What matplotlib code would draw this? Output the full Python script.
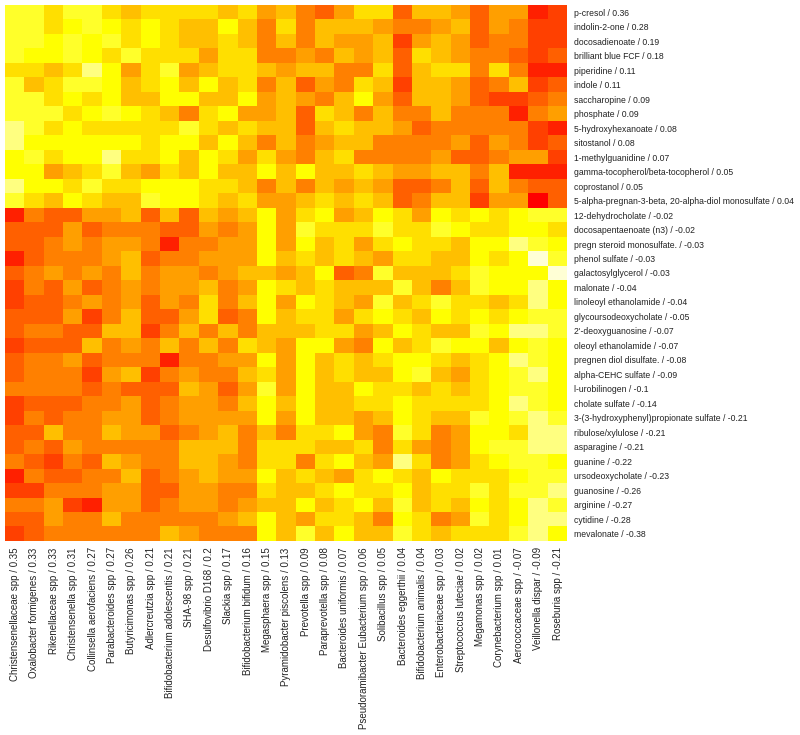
import matplotlib
matplotlib.use('Agg')
import matplotlib.pyplot as plt
from matplotlib.colors import ListedColormap

plt.rcParams['font.family'] = ['Liberation Sans', 'DejaVu Sans']

metabolites = ["p-cresol", "indolin-2-one", "docosadienoate", "brilliant blue FCF", "piperidine", "indole",
               "saccharopine", "phosphate", "5-hydroxyhexanoate", "sitostanol", "1-methylguanidine",
               "gamma-tocopherol/beta-tocopherol", "coprostanol",
               "5-alpha-pregnan-3-beta, 20-alpha-diol monosulfate", "12-dehydrocholate",
               "docosapentaenoate (n3)", "pregn steroid monosulfate.", "phenol sulfate", "galactosylglycerol",
               "malonate", "linoleoyl ethanolamide", "glycoursodeoxycholate", "2'-deoxyguanosine",
               "oleoyl ethanolamide", "pregnen diol disulfate.", "alpha-CEHC sulfate", "l-urobilinogen",
               "cholate sulfate", "3-(3-hydroxyphenyl)propionate sulfate", "ribulose/xylulose", "asparagine",
               "guanine", "ursodeoxycholate", "guanosine", "arginine", "cytidine", "mevalonate"]
metabolite_scores = [0.36, 0.28, 0.19, 0.18, 0.11, 0.11, 0.09, 0.09, 0.08, 0.08, 0.07, 0.05, 0.05, 0.04,
                     -0.02, -0.02, -0.03, -0.03, -0.03, -0.04, -0.04, -0.05, -0.07, -0.07, -0.08, -0.09,
                     -0.1, -0.14, -0.21, -0.21, -0.21, -0.22, -0.23, -0.26, -0.27, -0.28, -0.38]

taxa = ["Christensenellaceae spp", "Oxalobacter formigenes", "Rikenellaceae spp", "Christensenella spp",
        "Collinsella aerofaciens", "Parabacteroides spp", "Butyricimonas spp", "Adlercreutzia spp",
        "Bifidobacterium adolescentis", "SHA-98 spp", "Desulfovibrio D168", "Slackia spp",
        "Bifidobacterium bifidum", "Megasphaera spp", "Pyramidobacter piscolens", "Prevotella spp",
        "Paraprevotella spp", "Bacteroides uniformis", "Pseudoramibacter Eubacterium spp", "Solibacillus spp",
        "Bacteroides eggerthii", "Bifidobacterium animalis", "Enterobacteriaceae spp",
        "Streptococcus luteciae", "Megamonas spp", "Corynebacterium spp", "Aerococcaceae spp",
        "Veillonella dispar", "Roseburia spp"]
taxa_scores = [0.35, 0.33, 0.33, 0.31, 0.27, 0.27, 0.26, 0.21, 0.21, 0.21, 0.2, 0.17, 0.16, 0.15, 0.13,
               0.09, 0.08, 0.07, 0.06, 0.05, 0.04, 0.04, 0.03, 0.02, 0.02, 0.01, -0.07, -0.09, -0.21]

# colour bin of every cell, 0 = red ... 11 = palest yellow (R heat.colors(12))
heat_colors = ["#FF0000", "#FF2000", "#FF4000", "#FF6000", "#FF8000", "#FF9F00",
               "#FFBF00", "#FFDF00", "#FFFF00", "#FFFF2A", "#FFFF80", "#FFFFD5"]
bins = [
    [9, 9, 7, 9, 9, 7, 6, 7, 7, 7, 7, 6, 7, 5, 6, 4, 3, 5, 7, 7, 3, 6, 6, 5, 3, 5, 5, 1, 2],
    [9, 9, 7, 8, 9, 8, 7, 8, 7, 6, 6, 8, 6, 4, 7, 4, 6, 6, 6, 5, 4, 4, 5, 6, 3, 5, 4, 2, 2],
    [9, 9, 8, 9, 8, 9, 7, 8, 7, 6, 6, 7, 6, 4, 6, 4, 6, 5, 5, 6, 2, 5, 6, 5, 3, 4, 4, 2, 2],
    [9, 8, 8, 9, 8, 7, 9, 7, 7, 7, 5, 7, 7, 4, 4, 5, 4, 6, 5, 6, 3, 7, 6, 5, 4, 4, 3, 2, 3],
    [7, 7, 6, 7, 10, 8, 5, 7, 9, 5, 6, 7, 7, 6, 5, 6, 6, 4, 4, 7, 3, 6, 7, 7, 4, 7, 4, 1, 1],
    [9, 6, 7, 9, 9, 8, 6, 7, 8, 6, 8, 6, 7, 4, 6, 3, 5, 4, 7, 6, 2, 6, 6, 5, 3, 4, 6, 2, 3],
    [9, 9, 7, 8, 7, 8, 6, 6, 8, 8, 6, 6, 8, 5, 6, 5, 4, 6, 8, 5, 3, 6, 6, 5, 3, 2, 2, 3, 4],
    [9, 9, 9, 7, 8, 9, 8, 7, 6, 4, 7, 8, 5, 5, 6, 3, 7, 6, 4, 6, 4, 4, 6, 4, 4, 4, 1, 4, 5],
    [10, 9, 7, 8, 7, 7, 7, 7, 7, 9, 7, 6, 7, 6, 6, 3, 6, 7, 6, 6, 5, 3, 4, 4, 4, 4, 4, 2, 1],
    [10, 8, 8, 8, 8, 8, 8, 7, 8, 8, 6, 8, 6, 4, 6, 4, 5, 6, 6, 4, 4, 4, 4, 5, 3, 5, 4, 2, 3],
    [8, 9, 7, 8, 8, 10, 7, 7, 8, 6, 8, 7, 5, 7, 5, 4, 6, 7, 4, 4, 4, 4, 5, 3, 3, 4, 5, 5, 2],
    [8, 8, 5, 6, 7, 9, 6, 5, 7, 6, 8, 6, 6, 8, 6, 8, 6, 6, 7, 6, 5, 5, 6, 6, 4, 6, 1, 1, 1],
    [10, 8, 8, 7, 9, 7, 7, 8, 8, 8, 7, 7, 6, 4, 6, 4, 6, 5, 6, 5, 3, 3, 4, 6, 3, 6, 4, 3, 3],
    [9, 7, 6, 8, 7, 6, 6, 9, 8, 8, 7, 6, 7, 5, 5, 6, 7, 6, 7, 6, 3, 4, 6, 6, 2, 5, 5, 0, 3],
    [1, 4, 3, 3, 5, 5, 6, 3, 6, 3, 6, 5, 6, 8, 5, 7, 8, 5, 6, 8, 7, 5, 8, 7, 8, 7, 8, 9, 9],
    [3, 3, 3, 5, 3, 4, 4, 4, 3, 3, 5, 4, 5, 8, 5, 9, 7, 7, 7, 9, 7, 7, 9, 8, 7, 7, 8, 8, 7],
    [3, 3, 4, 5, 4, 5, 5, 4, 1, 4, 4, 5, 5, 8, 5, 8, 6, 7, 5, 7, 8, 7, 7, 6, 8, 8, 10, 9, 8],
    [1, 3, 4, 4, 4, 5, 6, 3, 4, 4, 5, 5, 5, 8, 6, 7, 6, 7, 6, 5, 7, 7, 6, 6, 8, 7, 8, 11, 9],
    [3, 4, 5, 4, 5, 4, 6, 4, 5, 5, 4, 5, 6, 6, 5, 6, 8, 3, 4, 9, 6, 6, 6, 7, 9, 8, 8, 8, 11],
    [2, 4, 3, 5, 3, 4, 5, 4, 5, 5, 6, 4, 5, 8, 7, 6, 7, 6, 6, 6, 9, 6, 4, 6, 9, 8, 8, 10, 8],
    [2, 3, 3, 4, 5, 4, 5, 3, 5, 4, 7, 4, 6, 8, 5, 8, 7, 6, 5, 9, 6, 7, 9, 7, 7, 6, 7, 10, 8],
    [3, 3, 3, 5, 2, 4, 6, 3, 3, 5, 7, 3, 4, 8, 6, 7, 7, 5, 7, 8, 7, 6, 8, 7, 8, 7, 8, 9, 9],
    [3, 4, 4, 3, 3, 6, 6, 2, 4, 6, 4, 6, 4, 6, 6, 6, 7, 7, 5, 6, 8, 7, 6, 6, 9, 8, 10, 10, 9],
    [2, 3, 3, 3, 6, 4, 5, 4, 6, 4, 6, 4, 7, 6, 5, 8, 8, 5, 4, 8, 6, 7, 9, 8, 8, 6, 8, 9, 8],
    [3, 4, 4, 5, 3, 4, 4, 4, 1, 4, 4, 5, 5, 8, 5, 8, 6, 7, 6, 7, 8, 8, 7, 6, 7, 8, 10, 9, 8],
    [3, 4, 4, 4, 2, 5, 6, 2, 4, 5, 4, 4, 6, 7, 5, 8, 6, 7, 6, 6, 8, 9, 6, 5, 7, 8, 9, 10, 8],
    [4, 4, 4, 4, 3, 4, 3, 3, 3, 6, 5, 3, 5, 9, 5, 8, 6, 6, 8, 7, 7, 6, 7, 6, 7, 8, 9, 9, 8],
    [2, 3, 3, 3, 4, 4, 5, 3, 4, 5, 5, 4, 6, 8, 6, 8, 6, 6, 7, 7, 8, 7, 7, 7, 7, 8, 10, 9, 8],
    [2, 4, 3, 4, 4, 5, 5, 3, 4, 5, 5, 5, 5, 8, 5, 8, 6, 6, 5, 6, 8, 7, 6, 6, 9, 8, 9, 10, 9],
    [3, 3, 6, 4, 4, 6, 5, 5, 3, 4, 5, 6, 4, 6, 4, 7, 7, 8, 5, 4, 9, 7, 4, 5, 8, 8, 7, 10, 10],
    [3, 4, 3, 5, 4, 4, 4, 4, 4, 6, 6, 6, 4, 7, 7, 7, 6, 6, 7, 4, 7, 5, 4, 5, 8, 9, 9, 10, 10],
    [4, 3, 2, 4, 3, 6, 5, 4, 4, 6, 6, 5, 4, 7, 7, 4, 7, 8, 6, 5, 10, 7, 4, 5, 7, 8, 9, 9, 8],
    [1, 4, 3, 3, 4, 4, 6, 3, 4, 5, 6, 5, 5, 8, 6, 7, 6, 5, 7, 8, 7, 6, 8, 7, 7, 7, 8, 9, 9],
    [2, 2, 4, 4, 4, 5, 5, 3, 3, 5, 5, 4, 4, 7, 6, 6, 7, 8, 7, 7, 8, 6, 7, 7, 9, 7, 9, 9, 10],
    [4, 4, 5, 2, 1, 5, 5, 3, 4, 5, 5, 4, 5, 6, 6, 8, 6, 7, 8, 6, 9, 6, 7, 6, 8, 7, 8, 10, 9],
    [3, 3, 5, 4, 4, 6, 4, 4, 4, 4, 4, 5, 6, 8, 6, 5, 7, 7, 6, 4, 8, 7, 4, 5, 9, 7, 8, 10, 10],
    [2, 3, 4, 4, 4, 4, 4, 4, 6, 5, 4, 4, 4, 8, 6, 9, 6, 8, 6, 6, 9, 7, 6, 7, 7, 7, 9, 10, 8],
]


def main():
    fig = plt.figure(figsize=(8, 7.35), dpi=100)
    ax = fig.add_axes([5.3 / 800, 1 - 541 / 735, 562 / 800, 536 / 735])

    cmap = ListedColormap(heat_colors)
    ax.imshow(bins, cmap=cmap, vmin=0, vmax=11, aspect='auto', interpolation='nearest')

    ax.set_xticks(range(len(taxa)))
    ax.set_xticklabels([f"{n} / {s:g}" for n, s in zip(taxa, taxa_scores)], rotation=90, fontsize=7.05)
    ax.set_yticks(range(len(metabolites)))
    ax.set_yticklabels([f"{n} / {s:g}" for n, s in zip(metabolites, metabolite_scores)], fontsize=6.25)
    ax.yaxis.tick_right()
    ax.tick_params(axis='x', length=0, pad=4.5, colors='#222222')
    ax.tick_params(axis='y', length=0, pad=4.5, colors='#222222')
    for spine in ax.spines.values():
        spine.set_visible(False)
    # labels sit a little right of the cell centres in the original
    fig.canvas.draw()
    for label in ax.get_xticklabels():
        label.set_x(label.get_position()[0] + 0.07)

    fig.savefig('out.png', dpi=100)


if __name__ == "__main__":
    main()
